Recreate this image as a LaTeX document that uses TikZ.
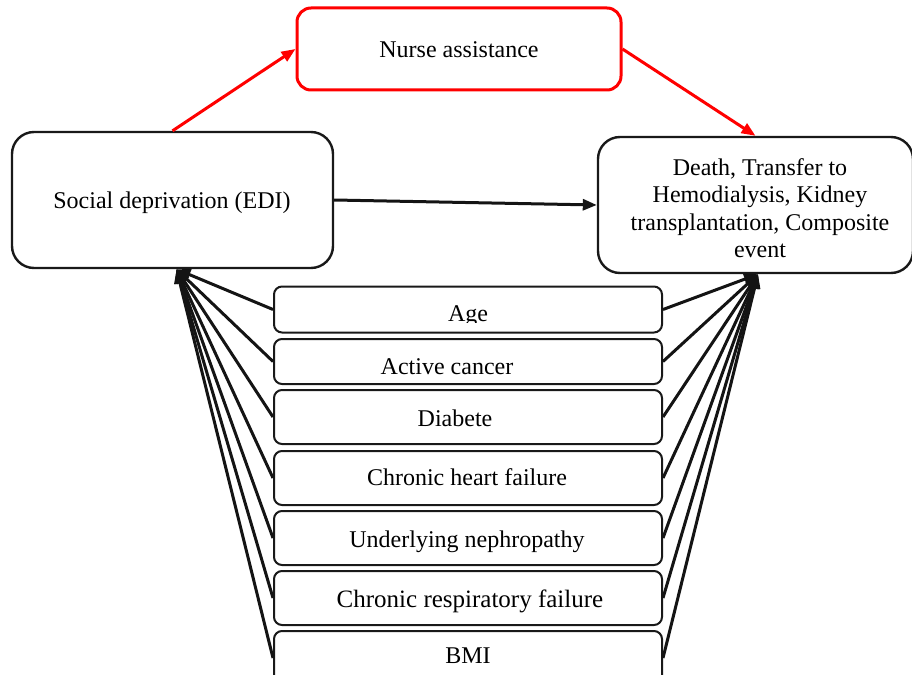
\documentclass[tikz,border=0pt]{standalone}
\usepackage{fontspec}
\setmainfont{Liberation Serif}
\usetikzlibrary{arrows.meta}
\begin{document}
\begin{tikzpicture}[x=1pt,y=-1pt,
  bigbox/.style={draw=black!90,line width=2.4pt,rounded corners=22pt,fill=white,inner sep=0pt},
  redbox/.style={draw=red,line width=3pt,rounded corners=14pt,fill=white,inner sep=0pt},
  covbox/.style={draw=black!90,line width=2pt,rounded corners=8pt,fill=white,inner sep=0pt,minimum width=388pt},
  txt/.style={font=\fontsize{24}{27.5}\selectfont,inner sep=0pt,anchor=base},
  arr/.style={draw=black!92,line width=3pt,-{Triangle[length=14pt,width=11pt]}},
  redarr/.style={draw=red,line width=3pt,-{Triangle[length=14pt,width=11pt]}},
]
\useasboundingbox (0,0) rectangle (912,674);

% main boxes
\node[redbox,minimum width=324pt,minimum height=82pt] (nur) at (459,49) {};
\node[bigbox,minimum width=321pt,minimum height=136pt] (soc) at (172.5,200) {};
\node[bigbox,minimum width=315pt,minimum height=136pt] (dea) at (755.5,205) {};

% covariate boxes
\node[covbox,minimum height=46pt] (cage) at (468,309.5) {};
\node[covbox,minimum height=45pt] (cact) at (468,361.5) {};
\node[covbox,minimum height=54pt] (cdia) at (468,417) {};
\node[covbox,minimum height=54pt] (cchf) at (468,478) {};
\node[covbox,minimum height=54pt] (cund) at (468,538) {};
\node[covbox,minimum height=54pt] (cres) at (468,598) {};
\node[covbox,minimum height=54pt] (cbmi) at (468,658) {};

% texts
\node[txt] (tnur) at (459,58) {Nurse assistance};
\node[txt] (tsoc) at (172,208) {Social deprivation (EDI)};
\node[txt,anchor=center,align=center] (tdea) at (760,208)
  {Death, Transfer to\\Hemodialysis, Kidney\\transplantation, Composite\\event};
\begin{scope}
  \clip (274,280) rectangle (662,322.5);
  \node[txt] (tage) at (468,321) {Age};
\end{scope}
\node[txt] (tact) at (447,374) {Active cancer};
\node[txt] (tdia) at (455,426) {Diabete};
\node[txt] (tchf) at (467,485) {Chronic heart failure};
\node[txt] (tund) at (467,547) {Underlying nephropathy};
\node[txt,font=\fontsize{25}{28}\selectfont] (tres) at (470,607) {Chronic respiratory failure};
\node[txt] (tbmi) at (468,663) {BMI};

% connectors
\draw[redarr] (soc.north) -- (nur.west);
\draw[redarr] (nur.east) -- (dea.north);
\draw[arr] (soc.east) -- (dea.west);
\foreach \n in {age,act,dia,chf,und,res,bmi}{
  \draw[arr] (c\n.west) -- ([xshift=4pt]soc.south);
  \draw[arr] (c\n.east) -- ([xshift=2.5pt]dea.south);
}
\end{tikzpicture}
\end{document}
